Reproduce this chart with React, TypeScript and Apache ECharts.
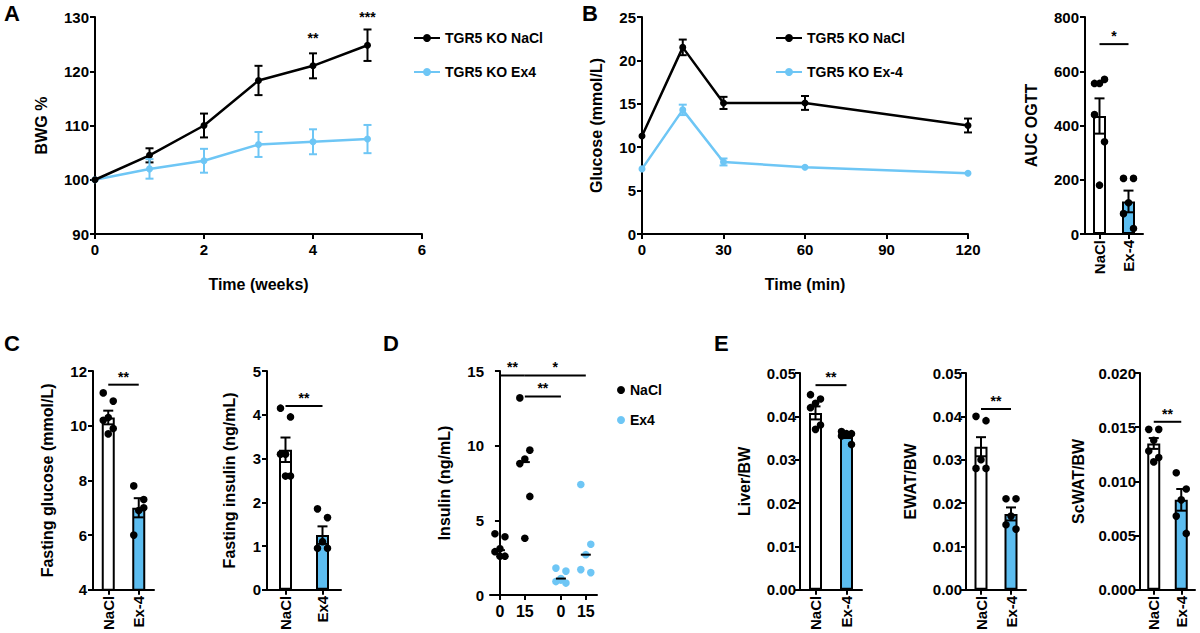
import React, { useEffect, useRef } from "react";
import * as echarts from "echarts";

// Panel A
const weeks = [0, 1, 2, 3, 4, 5];
const bwgNaCl = [100, 104.5, 110, 118.3, 121, 124.8];
const bwgNaClErr = [0, 1.3, 2.2, 2.7, 2.3, 2.9];
const bwgEx4 = [100, 102, 103.5, 106.5, 107, 107.5];
const bwgEx4Err = [0, 1.8, 2.2, 2.3, 2.3, 2.6];
// Panel B
const minutes = [0, 15, 30, 60, 120];
const gluNaCl = [11.3, 21.5, 15.1, 15.1, 12.5];
const gluNaClErr = [0, 0.9, 0.7, 0.8, 0.8];
const gluEx4 = [7.5, 14.3, 8.3, 7.7, 7.0];
const gluEx4Err = [0, 0.6, 0.4, 0, 0];
const aucMean = [435, 120];
const aucSem = [65, 40];
const aucNaClPts = [555, 570, 555, 440, 340, 180];
const aucEx4Pts = [205, 205, 115, 75, 20];
// Panel C
const fgMean = [10.3, 7.0];
const fgSem = [0.25, 0.35];
const fgNaClPts = [11.2, 10.9, 10.3, 10.2, 9.9, 9.7];
const fgEx4Pts = [7.8, 7.3, 6.9, 6.0, 7.0];
const fiMean = [3.2, 1.25];
const fiSem = [0.28, 0.2];
const fiNaClPts = [4.15, 3.95, 3.1, 3.1, 2.6, 2.6];
const fiEx4Pts = [1.85, 1.65, 1.1, 0.95, 0.95];
// Panel D
const dPositions = [0, 1, 2.45, 3.45];
const dLabels = ["0", "15", "0", "15"];
const dNaCl0 = [4.1, 3.9, 3.1, 2.9, 2.6, 2.6];
const dNaCl15 = [13.2, 9.7, 9.1, 8.8, 6.6, 3.8];
const dEx0 = [1.8, 1.6, 1.0, 0.9, 0.8, 1.1];
const dEx15 = [7.4, 3.4, 2.7, 1.7, 1.5];
const dMedians = [3.0, 8.9, 1.1, 2.7];
// Panel E
const liverMean = [0.0408, 0.0355];
const liverSem = [0.0015, 0.0005];
const liverNaClPts = [0.045, 0.044, 0.043, 0.042, 0.038, 0.037];
const liverEx4Pts = [0.0365, 0.036, 0.036, 0.0355, 0.0335];
const ewatMean = [0.033, 0.0175];
const ewatSem = [0.0022, 0.0015];
const ewatNaClPts = [0.040, 0.039, 0.030, 0.028, 0.028];
const ewatEx4Pts = [0.021, 0.021, 0.017, 0.015, 0.014];
const scwatMean = [0.0135, 0.0083];
const scwatSem = [0.0005, 0.001];
const scwatNaClPts = [0.0148, 0.0148, 0.0138, 0.0128, 0.0122, 0.0118];
const scwatEx4Pts = [0.0108, 0.0093, 0.0083, 0.0068, 0.0052];

const BLUE = "#5cbdf0";
const LBLUE = "#6ec6f5";
const FONT = "Liberation Sans";
const JIT = [-5, 5, 0, -5, 5, 0, 2];

function App() {
  const ref = useRef<HTMLDivElement>(null);
  useEffect(() => {
    const chart = echarts.init(ref.current!, null, { renderer: "svg" });
    const grids: any[] = [];
    const xAxes: any[] = [];
    const yAxes: any[] = [];
    const series: any[] = [];
    const lineStyle = { color: "#000", width: 2 };
    const lab = { color: "#000", fontWeight: "bold", fontSize: 15, fontFamily: FONT };
    const nameStyle = { color: "#000", fontWeight: "bold", fontSize: 16, fontFamily: FONT };

    function addGrid(g: any, x: any, y: any) {
      const i = grids.length;
      grids.push({ ...g, containLabel: false });
      xAxes.push({
        gridIndex: i,
        axisLine: { show: true, lineStyle, onZero: false },
        axisTick: { show: true, length: 5, lineStyle },
        axisLabel: { ...lab },
        splitLine: { show: false },
        nameTextStyle: nameStyle,
        ...x,
      });
      yAxes.push({
        gridIndex: i,
        type: "value",
        axisLine: { show: true, lineStyle },
        axisTick: { show: true, length: 5, lineStyle },
        axisLabel: { ...lab, margin: 6 },
        splitLine: { show: false },
        nameLocation: "middle",
        nameTextStyle: nameStyle,
        ...y,
      });
      return i;
    }

    function errSeries(i: number, xs: any[], m: number[], e: number[], color: string, cap = 5) {
      series.push({
        type: "custom",
        xAxisIndex: i,
        yAxisIndex: i,
        z: 4,
        data: xs.map((x, k) => [x, m[k], e[k]]),
        renderItem: (p: any, api: any) => {
          const sem = api.value(2);
          if (!sem) return null;
          const t = api.coord([api.value(0), api.value(1) + sem]);
          const b = api.coord([api.value(0), api.value(1) - sem]);
          const st = { stroke: color, lineWidth: 2 };
          return {
            type: "group",
            children: [
              { type: "line", shape: { x1: t[0], y1: t[1], x2: b[0], y2: b[1] }, style: st },
              { type: "line", shape: { x1: t[0] - cap, y1: t[1], x2: t[0] + cap, y2: t[1] }, style: st },
              { type: "line", shape: { x1: b[0] - cap, y1: b[1], x2: b[0] + cap, y2: b[1] }, style: st },
            ],
          };
        },
      });
    }

    function dotSeries(i: number, x: any, pts: number[], color: string, name?: string) {
      series.push({
        type: "custom",
        name,
        xAxisIndex: i,
        yAxisIndex: i,
        z: 5,
        data: pts.map((v) => [x, v]),
        renderItem: (p: any, api: any) => {
          const c = api.coord([api.value(0), api.value(1)]);
          return { type: "circle", shape: { cx: c[0] + JIT[p.dataIndex % JIT.length], cy: c[1], r: 3.8 }, style: { fill: color } };
        },
      });
    }

    function sigSeries(i: number, x1: any, x2: any, y: number, text: string) {
      series.push({
        type: "custom",
        xAxisIndex: i,
        yAxisIndex: i,
        z: 6,
        data: [[x1, x2, y]],
        renderItem: (p: any, api: any) => {
          const a = api.coord([api.value(0), api.value(2)]);
          const b = api.coord([api.value(1), api.value(2)]);
          const children: any[] = [
            { type: "text", x: (a[0] + b[0]) / 2, y: a[1] - 1, style: { text, fill: "#000", font: `bold 14px ${FONT}`, align: "center", verticalAlign: "bottom" } },
          ];
          if (a[0] !== b[0]) children.push({ type: "line", shape: { x1: a[0], y1: a[1], x2: b[0], y2: b[1] }, style: { stroke: "#000", lineWidth: 2 } });
          return { type: "group", children };
        },
      });
    }

    function barPanel(g: any, cats: string[], mean: number[], sem: number[], ptsA: number[], ptsB: number[], y: any, sig: [number, string]) {
      const i = addGrid(g, { type: "category", data: cats, axisLabel: { ...lab, rotate: 90, margin: 6 }, axisTick: { show: true, length: 5, lineStyle, alignWithLabel: true } }, y);
      series.push({
        type: "bar",
        xAxisIndex: i,
        yAxisIndex: i,
        barWidth: 13,
        data: [
          { value: mean[0], itemStyle: { color: "#fff", borderColor: "#000", borderWidth: 2 } },
          { value: mean[1], itemStyle: { color: BLUE, borderColor: "#000", borderWidth: 2 } },
        ],
      });
      errSeries(i, [0, 1], mean, sem, "#000", 5);
      dotSeries(i, 0, ptsA, "#000");
      dotSeries(i, 1, ptsB, "#000");
      sigSeries(i, 0, 1, sig[0], sig[1]);
      return i;
    }

    // A
    const a = addGrid(
      { left: 95, top: 17, width: 327, height: 217 },
      { type: "value", min: 0, max: 6, interval: 2, name: "Time (weeks)", nameLocation: "middle", nameGap: 42 },
      { min: 90, max: 130, interval: 10, name: "BWG %", nameGap: 46 }
    );
    series.push({ type: "line", name: "TGR5 KO NaCl", xAxisIndex: a, yAxisIndex: a, data: weeks.map((w, k) => [w, bwgNaCl[k]]), symbol: "circle", symbolSize: 7, lineStyle: { color: "#000", width: 2.5 }, itemStyle: { color: "#000" }, z: 3 });
    series.push({ type: "line", name: "TGR5 KO Ex4", xAxisIndex: a, yAxisIndex: a, data: weeks.map((w, k) => [w, bwgEx4[k]]), symbol: "circle", symbolSize: 7, lineStyle: { color: LBLUE, width: 2.5 }, itemStyle: { color: LBLUE }, z: 2 });
    errSeries(a, weeks, bwgNaCl, bwgNaClErr, "#000", 4);
    errSeries(a, weeks, bwgEx4, bwgEx4Err, LBLUE, 4);
    sigSeries(a, 4, 4, 124.6, "**");
    sigSeries(a, 5, 5, 128.6, "***");

    // B
    const b = addGrid(
      { left: 642, top: 17, width: 326, height: 217 },
      { type: "value", min: 0, max: 120, interval: 30, name: "Time (min)", nameLocation: "middle", nameGap: 42 },
      { min: 0, max: 25, interval: 5, name: "Glucose (mmol/L)", nameGap: 38 }
    );
    series.push({ type: "line", name: "TGR5 KO NaCl", xAxisIndex: b, yAxisIndex: b, data: minutes.map((m, k) => [m, gluNaCl[k]]), symbol: "circle", symbolSize: 7, lineStyle: { color: "#000", width: 2.5 }, itemStyle: { color: "#000" }, z: 3 });
    series.push({ type: "line", name: "TGR5 KO Ex-4", xAxisIndex: b, yAxisIndex: b, data: minutes.map((m, k) => [m, gluEx4[k]]), symbol: "circle", symbolSize: 7, lineStyle: { color: LBLUE, width: 2.5 }, itemStyle: { color: LBLUE }, z: 2 });
    errSeries(b, minutes, gluNaCl, gluNaClErr, "#000", 4);
    errSeries(b, minutes, gluEx4, gluEx4Err, LBLUE, 4);

    barPanel({ left: 1085, top: 17, width: 58, height: 217 }, ["NaCl", "Ex-4"], aucMean, aucSem, aucNaClPts, aucEx4Pts, { min: 0, max: 800, interval: 200, name: "AUC OGTT", nameGap: 46 }, [700, "*"]);
    barPanel({ left: 93, top: 371, width: 61, height: 224 }, ["NaCl", "Ex-4"], fgMean, fgSem, fgNaClPts, fgEx4Pts, { min: 4, max: 12, interval: 2, name: "Fasting glucose (mmol/L)", nameGap: 38 }, [11.5, "**"]);
    barPanel({ left: 267, top: 371, width: 74, height: 224 }, ["NaCl", "Ex4"], fiMean, fiSem, fiNaClPts, fiEx4Pts, { min: 0, max: 5, interval: 1, name: "Fasting insulin (ng/mL)", nameGap: 30 }, [4.2, "**"]);

    // D
    const d = addGrid(
      { left: 490, top: 371, width: 107, height: 224 },
      {
        type: "value", min: -0.4, max: 3.9,
        axisLabel: { ...lab, fontSize: 16, customValues: dPositions, formatter: (v: number) => dLabels[dPositions.indexOf(v)] ?? "" },
        axisTick: { show: true, length: 5, lineStyle, customValues: dPositions },
      },
      { min: 0, max: 15, interval: 5, name: "Insulin (ng/mL)", nameGap: 38 }
    );
    dotSeries(d, dPositions[0], dNaCl0, "#000", "NaCl");
    dotSeries(d, dPositions[1], dNaCl15, "#000", "NaCl");
    dotSeries(d, dPositions[2], dEx0, LBLUE, "Ex4");
    dotSeries(d, dPositions[3], dEx15, LBLUE, "Ex4");
    series.push({
      type: "custom", xAxisIndex: d, yAxisIndex: d, z: 6,
      data: dPositions.map((p, k) => [p, dMedians[k]]),
      renderItem: (p: any, api: any) => {
        const c = api.coord([api.value(0), api.value(1)]);
        return { type: "line", shape: { x1: c[0] - 5, y1: c[1], x2: c[0] + 5, y2: c[1] }, style: { stroke: "#000", lineWidth: 2 } };
      },
    });
    sigSeries(d, dPositions[0], dPositions[1], 14.7, "**");
    sigSeries(d, dPositions[1], dPositions[3], 14.7, "*");
    sigSeries(d, dPositions[1], dPositions[2], 13.3, "**");

    // E
    const f2 = (v: number) => v.toFixed(2);
    barPanel({ left: 800, top: 373, width: 62, height: 222 }, ["NaCl", "Ex-4"], liverMean, liverSem, liverNaClPts, liverEx4Pts, { min: 0, max: 0.05, interval: 0.01, axisLabel: { ...lab, margin: 4, formatter: f2 }, name: "Liver/BW", nameGap: 48 }, [0.0472, "**"]);
    barPanel({ left: 966, top: 373, width: 60, height: 222 }, ["NaCl", "Ex-4"], ewatMean, ewatSem, ewatNaClPts, ewatEx4Pts, { min: 0, max: 0.05, interval: 0.01, axisLabel: { ...lab, margin: 4, formatter: f2 }, name: "EWAT/BW", nameGap: 48 }, [0.0417, "**"]);
    barPanel({ left: 1140, top: 373, width: 55, height: 222 }, ["NaCl", "Ex-4"], scwatMean, scwatSem, scwatNaClPts, scwatEx4Pts, { min: 0, max: 0.02, interval: 0.005, axisLabel: { ...lab, margin: 4, formatter: (v: number) => v.toFixed(3) }, name: "ScWAT/BW", nameGap: 54 }, [0.0155, "**"]);

    const legText = { color: "#000", fontWeight: "bold", fontSize: 14, fontFamily: FONT };
    const panelLetter = (t: string, x: number, y: number) => ({ type: "text", left: x, top: y, style: { text: t, font: `bold 22px ${FONT}`, fill: "#000" } });

    chart.setOption({
      animation: false,
      backgroundColor: "#fff",
      grid: grids,
      xAxis: xAxes,
      yAxis: yAxes,
      series,
      legend: [
        { data: ["TGR5 KO NaCl", "TGR5 KO Ex4"], left: 408, top: 26, orient: "vertical", itemGap: 20, itemWidth: 26, itemHeight: 10, textStyle: legText },
        { data: ["TGR5 KO NaCl", "TGR5 KO Ex-4"], left: 770, top: 26, orient: "vertical", itemGap: 20, itemWidth: 26, itemHeight: 10, textStyle: legText },
        {
          data: [
            { name: "NaCl", icon: "circle", itemStyle: { color: "#000" } },
            { name: "Ex4", icon: "circle", itemStyle: { color: LBLUE } },
          ],
          left: 612, top: 378, orient: "vertical", itemGap: 16, itemWidth: 8, itemHeight: 8, textStyle: legText,
        },
      ],
      graphic: [
        panelLetter("A", 4, 2),
        panelLetter("B", 582, 2),
        panelLetter("C", 4, 332),
        panelLetter("D", 383, 332),
        panelLetter("E", 714, 332),
      ],
    });
    return () => chart.dispose();
  }, []);
  return <div ref={ref} style={{ position: "fixed", left: 0, top: 0, width: 1200, height: 633 }} />;
}

export default App;
